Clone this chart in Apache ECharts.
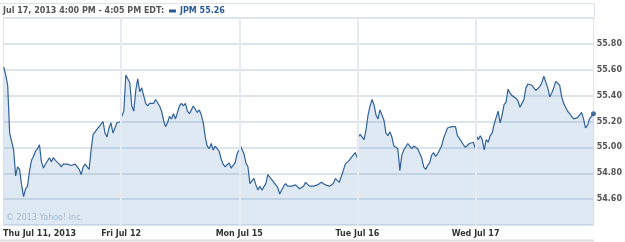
<!DOCTYPE html>
<html>
<head>
<meta charset="utf-8">
<script src="https://cdn.jsdelivr.net/npm/echarts@6/dist/echarts.min.js"></script>
<style>
html,body{margin:0;padding:0;background:#fff;}
#c{width:625px;height:242px;}
</style>
</head>
<body>
<div id="c"></div>
<script>
const titleText = 'Jul 17, 2013 4:00 PM - 4:05 PM EDT:';
const seriesName = 'JPM';
const dayLabels = ['Thu Jul 11, 2013', 'Fri Jul 12', 'Mon Jul 15', 'Tue Jul 16', 'Wed Jul 17'];
const yMin = 54.4, yMax = 56.0, yStep = 0.2;

const thu = [55.62,55.56,55.48,55.11,55.10,54.98,54.78,54.85,54.83,54.71,
             54.62,54.68,54.70,54.82,54.90,54.93,54.97,54.99,55.02,54.89,
             54.84,54.87,54.87,54.92,54.89,54.92,54.90,54.89,54.87,54.85,
             54.87,54.87,54.87,54.87,54.86,54.87,54.87,54.85,54.83,54.79,
             54.85,54.87,54.85,54.83,54.98,55.10,55.12,55.11,55.16,55.18,
             55.20,55.11,55.08,55.15,55.19,55.11,55.15,55.19,55.20,55.20];
const fri = [55.24,55.28,55.56,55.57,55.50,55.32,55.28,55.44,55.53,55.43,
             55.46,55.46,55.34,55.32,55.34,55.35,55.34,55.37,55.38,55.32,
             55.28,55.21,55.16,55.19,55.24,55.22,55.26,55.22,55.23,55.32,
             55.34,55.32,55.34,55.28,55.26,55.29,55.32,55.31,55.27,55.29,
             55.25,55.19,55.08,55.01,54.99,55.03,54.98,55.01,55.01,54.97,
             54.91,54.87,54.85,54.84,54.88,54.84,54.86,54.88,54.95,54.98];
const mon = [55.02,55.01,54.95,54.88,54.85,54.72,54.73,54.76,54.71,54.67,
             54.70,54.67,54.67,54.72,54.79,54.78,54.75,54.74,54.71,54.69,
             54.64,54.67,54.70,54.72,54.70,54.71,54.70,54.71,54.71,54.72,
             54.68,54.67,54.70,54.73,54.74,54.70,54.71,54.70,54.71,54.71,
             54.70,54.73,54.74,54.71,54.70,54.70,54.71,54.72,54.76,54.77,
             54.73,54.74,54.82,54.87,54.88,54.90,54.92,54.94,54.96,54.92];
const tue = [55.08,55.10,55.10,55.06,55.14,55.25,55.32,55.37,55.33,55.25,
             55.22,55.29,55.30,55.21,55.11,55.09,55.12,55.08,55.01,55.02,
             54.99,54.82,54.94,54.98,54.99,55.03,55.01,54.99,55.01,55.00,
             54.99,54.99,54.92,54.85,54.83,54.86,54.88,54.94,54.96,54.93,
             54.95,54.98,55.01,55.07,55.11,55.15,55.14,55.16,55.15,55.16,
             55.09,55.07,55.07,55.02,55.00,55.01,55.03,55.03,55.04,54.99];
const wed = [55.09,55.06,55.09,55.06,54.98,55.06,55.04,55.09,55.11,55.18,
             55.23,55.28,55.19,55.25,55.33,55.35,55.45,55.42,55.40,55.39,
             55.38,55.36,55.31,55.34,55.37,55.46,55.49,55.50,55.48,55.49,
             55.44,55.44,55.47,55.50,55.55,55.55,55.46,55.39,55.42,55.46,
             55.51,55.51,55.48,55.39,55.34,55.33,55.28,55.26,55.24,55.22,
             55.22,55.23,55.25,55.27,55.22,55.15,55.17,55.22,55.24,55.26];

const days = [thu, fri, mon, tue, wed];
const lineData = [];
let lastPoint = null;
days.forEach((arr, d) => {
  arr.forEach((v, k) => {
    const x = d + 0.006 + (k / (arr.length - 1)) * 0.992;
    lineData.push([x, v]);
    lastPoint = [x, v];
  });
  if (d < days.length - 1) lineData.push([d + 0.999, '-']);
});
const lastVal = wed[wed.length - 1];

const FONT = 'DejaVu Sans';
const chart = echarts.init(document.getElementById('c'), null, {renderer: 'canvas'});
chart.setOption({
  animation: false,
  backgroundColor: '#fff',
  title: {
    text: titleText, left: 3, top: 7, padding: 0,
    textStyle: {fontFamily: FONT, fontSize: 8, fontWeight: 'bold', color: '#555'}
  },
  legend: {
    data: [{name: seriesName, icon: 'rect'}],
    left: 169, top: 7, padding: 0,
    itemWidth: 7, itemHeight: 3, itemGap: 5,
    formatter: n => n + ' ' + lastVal.toFixed(2),
    textStyle: {fontFamily: FONT, fontSize: 8, fontWeight: 'bold', color: '#2a5a98', padding: [0,0,0,-1]}
  },
  grid: {left: 3, right: 31, top: 18, bottom: 17, containLabel: false},
  xAxis: {
    type: 'value', min: 0, max: 5, interval: 1,
    axisLine: {show: false}, axisTick: {show: false},
    splitLine: {show: true, lineStyle: {color: '#dfe6ec', width: 1}},
    axisLabel: {
      formatter: v => dayLabels[v] || '',
      alignMinLabel: 'left', showMaxLabel: false,
      margin: 5, fontFamily: FONT, fontSize: 8, fontWeight: 'bold', color: '#333'
    }
  },
  yAxis: {
    type: 'value', position: 'right', min: yMin, max: yMax, interval: yStep,
    axisLine: {show: false}, axisTick: {show: false},
    splitLine: {show: true, lineStyle: {color: '#dde5ec', width: 2}},
    axisLabel: {
      formatter: v => v.toFixed(2), showMinLabel: false, showMaxLabel: false,
      margin: 3, fontFamily: FONT, fontSize: 8, fontWeight: 'bold', color: '#555'
    }
  },
  series: [
    {
      name: seriesName, type: 'line', data: lineData, showSymbol: false, connectNulls: false,
      lineStyle: {color: '#30619a', width: 1.2},
      itemStyle: {color: '#2a5a98'},
      areaStyle: {color: 'rgba(85,145,195,0.28)', origin: 'start'},
      markLine: {
        silent: true, symbol: ['none', 'none'], label: {show: false},
        lineStyle: {color: '#e5ebf0', width: 2, type: 'solid'},
        data: [{xAxis: 1}, {xAxis: 2}, {xAxis: 3}, {xAxis: 4}]
      }
    },
    {
      type: 'scatter', data: [lastPoint], symbolSize: 5, silent: true,
      itemStyle: {color: '#1f4e8c'}
    }
  ],
  graphic: [
    {type: 'line', shape: {x1: 0, y1: 3.5, x2: 594, y2: 3.5}, style: {stroke: '#dde3e8', lineWidth: 1}},
    {type: 'line', shape: {x1: 594.5, y1: 3, x2: 594.5, y2: 18}, style: {stroke: '#dde3e8', lineWidth: 1}},
    {type: 'line', shape: {x1: 0, y1: 240.5, x2: 594, y2: 240.5}, style: {stroke: '#dcdcdc', lineWidth: 2}},
    {type: 'text', left: 6, top: 214, style: {text: '\u00a9 2013 Yahoo! Inc.', font: '8px "DejaVu Sans"', fill: '#b7c8d7'}}
  ]
});
</script>
</body>
</html>
